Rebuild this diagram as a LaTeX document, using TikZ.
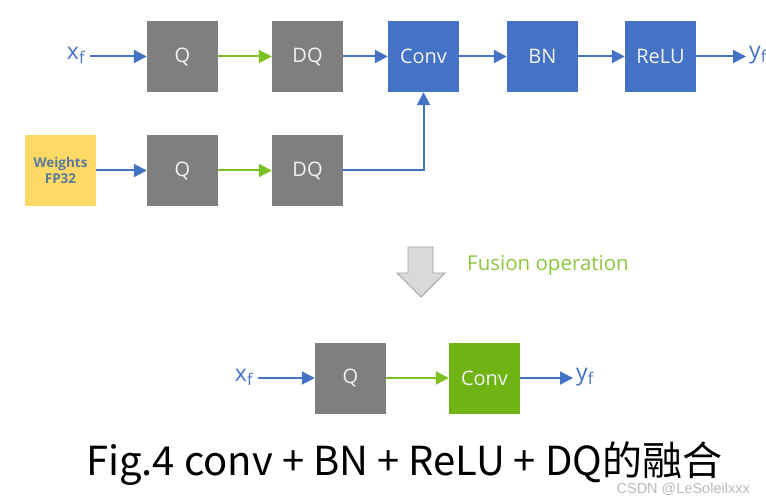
\documentclass[tikz,border=0pt]{standalone}
\usepackage{fontspec}
\setmainfont{Open Sans}
\newfontfamily\cjkfont{Noto Sans CJK SC}
\newfontfamily\wmfont{Liberation Sans}
\usetikzlibrary{arrows.meta}
\definecolor{boxgray}{HTML}{7F7F7F}
\definecolor{boxblue}{HTML}{4472C4}
\definecolor{boxgreen}{HTML}{6FB315}
\definecolor{arrgreen}{HTML}{7CC121}
\definecolor{txtgreen}{HTML}{8CC63F}
\definecolor{wyellow}{HTML}{FFD966}
\definecolor{wtext}{HTML}{5A7A9A}
\definecolor{boxtext}{HTML}{F2F2F2}
\tikzset{
  blk/.style={minimum width=71pt, minimum height=71pt, inner sep=0pt, text=boxtext, font=\fontsize{20}{24}\selectfont},
  gbox/.style={blk, fill=boxgray},
  bbox/.style={blk, fill=boxblue},
  grbox/.style={blk, fill=boxgreen},
  ybox/.style={blk, fill=wyellow, text=wtext, font=\fontsize{13.5}{16}\selectfont\bfseries, align=center},
  barr/.style={draw=boxblue, line width=2pt, -{Triangle[length=13pt,width=13pt]}},
  garr/.style={draw=arrgreen, line width=2pt, -{Triangle[length=13pt,width=13pt]}},
  lbl/.style={text=boxblue, font=\fontsize{23}{25}\selectfont, inner sep=1pt}
}
\begin{document}
\begin{tikzpicture}[x=1pt,y=-1pt]
\useasboundingbox (0,0) rectangle (766,500);
% top row
\node[lbl] (xf1) at (76,55) {x\textsubscript{f}};
\node[gbox] (q1) at (182.5,56.5) {Q};
\node[gbox] (dq1) at (307.5,56.5) {DQ};
\node[bbox] (conv1) at (423.5,56.5) {Conv};
\node[bbox] (bn) at (542.5,56.5) {BN};
\node[bbox] (relu) at (660.5,56.5) {ReLU};
\node[lbl] (yf1) at (758,55) {y\textsubscript{f}};
% second row
\node[ybox] (w) at (60.5,170.5) {Weights\\FP32};
\node[gbox] (q2) at (182.5,170.5) {Q};
\node[gbox] (dq2) at (307.5,170.5) {DQ};
% connectors
\draw[barr] ([xshift=4pt]xf1.east |- q1.west) -- (q1.west);
\draw[garr] (q1) -- (dq1);
\draw[barr] (dq1) -- (conv1);
\draw[barr] (conv1) -- (bn);
\draw[barr] (bn) -- (relu);
\draw[barr] (relu.east) -- ([xshift=-2pt]yf1.west |- relu.east);
\draw[barr] (w) -- (q2);
\draw[garr] (q2) -- (dq2);
\draw[barr] (dq2.east) -| (conv1.south);
% fusion arrow
\draw[draw=gray!75, fill=gray!30, line width=0.8pt]
  (408,247) -- (433,247) -- (433,273) -- (445,273) -- (421,297) -- (397,273) -- (408,273) -- cycle;
\node[anchor=west, text=txtgreen, font=\fontsize{20.5}{24}\selectfont, inner sep=0pt] (fus) at (467,265) {Fusion operation};
% bottom row
\node[lbl] (xf2) at (244,377) {x\textsubscript{f}};
\node[gbox] (q3) at (350.5,378) {Q};
\node[grbox] (conv2) at (484.5,378) {Conv};
\node[lbl] (yf2) at (585,377) {y\textsubscript{f}};
\draw[barr] ([xshift=4pt]xf2.east |- q3.west) -- (q3.west);
\draw[garr] (q3) -- (conv2);
\draw[barr] (conv2.east) -- ([xshift=-2pt]yf2.west |- conv2.east);
% caption
\node[anchor=west, inner sep=0pt, font=\cjkfont\fontsize{40}{44}\selectfont] (cap) at (86,464) {Fig.4 conv + BN + ReLU + DQ的融合};
\node[anchor=east, inner sep=0pt, text=gray!55, font=\wmfont\fontsize{14.5}{16}\selectfont] (wm) at (750,489) {CSDN @LeSoleilxxx};
\end{tikzpicture}
\end{document}
